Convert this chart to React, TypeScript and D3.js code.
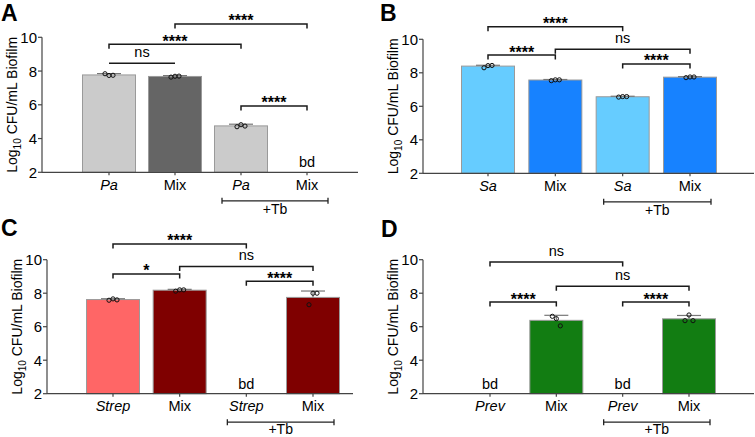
import React from "react";
import * as d3 from "d3";

// ---------- DATA ----------
const yTicks = [2, 4, 6, 8, 10];

const catsA = ["Pa", "Mix", "Pa", "Mix"];
const catsB = ["Sa", "Mix", "Sa", "Mix"];
const catsC = ["Strep", "Mix", "Strep", "Mix"];
const catsD = ["Prev", "Mix", "Prev", "Mix"];
const italicCat = [true, false, true, false];

// null = below detection (bd)
const valuesA = [7.77, 7.68, 4.75, null];
const valuesB = [8.4, 7.57, 6.57, 7.74];
const valuesC = [7.62, 8.18, null, 7.75];
const valuesD = [null, 6.38, null, 6.47];

const errA = [0.08, 0.05, 0.1, 0];
const errB = [0.05, 0.03, 0.03, 0.03];
const errC = [0.05, 0.05, 0, 0.38];
const errD = [0, 0.3, 0, 0.2];

const pointsA = [[7.84, 7.74, 7.75], [7.64, 7.69, 7.7], [4.7, 4.82, 4.74], []];
const pointsB = [[8.3, 8.43, 8.44], [7.53, 7.58, 7.58], [6.55, 6.58, 6.58], [7.71, 7.75, 7.75]];
const pointsC = [[7.58, 7.66, 7.6], [8.12, 8.2, 8.2], [], [7.31, 8.0, 8.0]];
const pointsD = [[], [6.62, 6.48, 6.05], [], [6.36, 6.7, 6.36]];

const colorsA = ["#cbcbcb", "#656565", "#cbcbcb", "#656565"];
const colorsB = ["#66ccff", "#1782ff", "#66ccff", "#1782ff"];
const colorsC = ["#ff6666", "#7f0000", "#ff6666", "#7f0000"];
const colorsD = ["#127d12", "#127d12", "#127d12", "#127d12"];

// significance brackets: [fromIndex, toIndex, level (y units), label]
const bracketsA: [number, number, number, string][] = [
  [0, 1, 8.46, "ns"],
  [0, 2, 9.59, "****"],
  [1, 3, 10.79, "****"],
  [2, 3, 5.93, "****"],
];
const bracketsB: [number, number, number, string][] = [
  [0, 2, 10.75, "****"],
  [0, 1, 9.06, "****"],
  [1, 3, 9.4, "ns"],
  [2, 3, 8.53, "****"],
];
const bracketsC: [number, number, number, string][] = [
  [0, 2, 10.94, "****"],
  [0, 1, 9.15, "*"],
  [1, 3, 9.6, "ns"],
  [2, 3, 8.71, "****"],
];
const bracketsD: [number, number, number, string][] = [
  [0, 2, 9.86, "ns"],
  [1, 3, 8.41, "ns"],
  [0, 1, 7.47, "****"],
  [2, 3, 7.47, "****"],
];

const groupLabel = "+Tb";
const bdLabel = "bd";

// ---------- LAYOUT ----------
type Layout = {
  letter: string; lx: number; ly: number;
  axisX: number; yTop: number; yBot: number; c0: number; c3: number; xEnd: number;
};
const layouts: Layout[] = [
  { letter: "A", lx: 1, ly: 21, axisX: 42, yTop: 37.3, yBot: 172.3, c0: 109, c3: 307, xEnd: 358 },
  { letter: "B", lx: 380, ly: 21, axisX: 423, yTop: 39.3, yBot: 173.3, c0: 488, c3: 690, xEnd: 754 },
  { letter: "C", lx: 1, ly: 236, axisX: 47, yTop: 259.7, yBot: 393.7, c0: 113, c3: 313, xEnd: 353 },
  { letter: "D", lx: 381, ly: 237, axisX: 423, yTop: 259.7, yBot: 393.7, c0: 490, c3: 689, xEnd: 754 },
];

const FONT = "'Liberation Sans', Arial, Helvetica, sans-serif";

type PanelData = {
  cats: string[]; values: (number | null)[]; err: number[]; points: number[][];
  colors: string[]; brackets: [number, number, number, string][];
};

const panels: PanelData[] = [
  { cats: catsA, values: valuesA, err: errA, points: pointsA, colors: colorsA, brackets: bracketsA },
  { cats: catsB, values: valuesB, err: errB, points: pointsB, colors: colorsB, brackets: bracketsB },
  { cats: catsC, values: valuesC, err: errC, points: pointsC, colors: colorsC, brackets: bracketsC },
  { cats: catsD, values: valuesD, err: errD, points: pointsD, colors: colorsD, brackets: bracketsD },
];

function Panel({ d, L }: { d: PanelData; L: Layout }) {
  const y = d3.scaleLinear().domain([2, 10]).range([L.yBot, L.yTop]);
  const idx = d.cats.map((_, i) => String(i));
  const x = d3.scalePoint<string>().domain(idx).range([L.c0, L.c3]);
  const bw = 53;
  const jitter = [-4, 0, 4];
  const axisColor = "#444";
  const yMid = (L.yTop + L.yBot) / 2;
  const tbY = L.yBot + 28.5;
  const tbX1 = (x("2") as number) - 19;
  const tbX2 = (x("3") as number) + 21;
  return (
    <g>
      <text x={L.lx} y={L.ly} fontFamily={FONT} fontWeight="bold" fontSize={23} fill="#000">
        {L.letter}
      </text>
      {/* bars */}
      {d.values.map((v, i) => {
        const cx = x(String(i)) as number;
        if (v == null) {
          return (
            <text key={"bd" + i} x={cx} y={L.yBot - 5} textAnchor="middle" fontFamily={FONT} fontSize={14.5} fill="#000">
              {bdLabel}
            </text>
          );
        }
        return (
          <g key={"bar" + i}>
            <rect x={cx - bw / 2} y={y(v)} width={bw} height={L.yBot - y(v)} fill={d.colors[i]} stroke="#9a9a9a" strokeWidth={1} />
            <line x1={cx} x2={cx} y1={y(v)} y2={y(v + d.err[i])} stroke="#777" strokeWidth={1.2} />
            <line x1={cx - 12} x2={cx + 12} y1={y(v + d.err[i])} y2={y(v + d.err[i])} stroke="#777" strokeWidth={1.2} />
            {d.points[i].map((p, j) => (
              <circle key={j} cx={cx + jitter[j]} cy={y(p)} r={2.1} fill="none" stroke="#111" strokeWidth={1} />
            ))}
          </g>
        );
      })}
      {/* y axis */}
      <line x1={L.axisX} x2={L.axisX} y1={L.yTop} y2={L.yBot} stroke={axisColor} strokeWidth={1.2} />
      {yTicks.map((t) => (
        <g key={t}>
          <line x1={L.axisX - 4} x2={L.axisX} y1={y(t)} y2={y(t)} stroke={axisColor} strokeWidth={1.2} />
          <text x={L.axisX - 5} y={y(t) + 5.5} textAnchor="end" fontFamily={FONT} fontSize={15} fill="#000">
            {t}
          </text>
        </g>
      ))}
      {/* x axis */}
      <line x1={L.axisX} x2={L.xEnd} y1={L.yBot} y2={L.yBot} stroke={axisColor} strokeWidth={1.2} />
      {d.cats.map((c, i) => {
        const cx = x(String(i)) as number;
        return (
          <g key={"xt" + i}>
            <line x1={cx} x2={cx} y1={L.yBot} y2={L.yBot + 3} stroke={axisColor} strokeWidth={1.2} />
            <text x={cx} y={L.yBot + 17.5} textAnchor="middle" fontFamily={FONT} fontSize={14.5}
              fontStyle={italicCat[i] ? "italic" : "normal"} fill="#000">
              {c}
            </text>
          </g>
        );
      })}
      {/* y label */}
      <text transform={`translate(${L.axisX - 25},${yMid}) rotate(-90)`} textAnchor="middle"
        fontFamily={FONT} fontSize={14} fill="#000">
        Log<tspan fontSize={10} dy={4}>10</tspan><tspan dy={-4}> CFU/mL Biofilm</tspan>
      </text>
      {/* +Tb group bracket */}
      <line x1={tbX1} x2={tbX2} y1={tbY} y2={tbY} stroke="#222" strokeWidth={1.3} />
      <line x1={tbX1} x2={tbX1} y1={tbY - 3} y2={tbY + 3} stroke="#222" strokeWidth={1.3} />
      <line x1={tbX2} x2={tbX2} y1={tbY - 3} y2={tbY + 3} stroke="#222" strokeWidth={1.3} />
      <text x={(tbX1 + tbX2) / 2} y={Math.min(tbY + 13.5, 433.5)} textAnchor="middle" fontFamily={FONT} fontSize={14} fill="#000">
        {groupLabel}
      </text>
      {/* significance brackets */}
      {d.brackets.map(([a, b, lvl, lab], k) => {
        const x1 = x(String(a)) as number;
        const x2 = x(String(b)) as number;
        const yy = y(lvl);
        const tip = lab === "ns" && a === 0 && b === 1 ? 0 : 4.5;
        const isStar = lab.startsWith("*");
        return (
          <g key={"br" + k}>
            <path d={`M${x1},${yy + tip}V${yy}H${x2}V${yy + tip}`} fill="none" stroke="#1a1a1a" strokeWidth={1.5} />
            <text x={(x1 + x2) / 2} y={isStar ? yy + 2.5 : yy - 6} textAnchor="middle" fontFamily={FONT}
              fontSize={isStar ? 16 : 14.5} fontWeight={isStar ? "bold" : "normal"} fill="#000">
              {lab}
            </text>
          </g>
        );
      })}
    </g>
  );
}

export default function App() {
  return (
    <div style={{ position: "absolute", left: 0, top: 0 }}>
      <svg width={755} height={437} viewBox="0 0 755 437" style={{ display: "block", background: "#fff" }}>
        {panels.map((p, i) => (
          <Panel key={i} d={p} L={layouts[i]} />
        ))}
      </svg>
    </div>
  );
}
